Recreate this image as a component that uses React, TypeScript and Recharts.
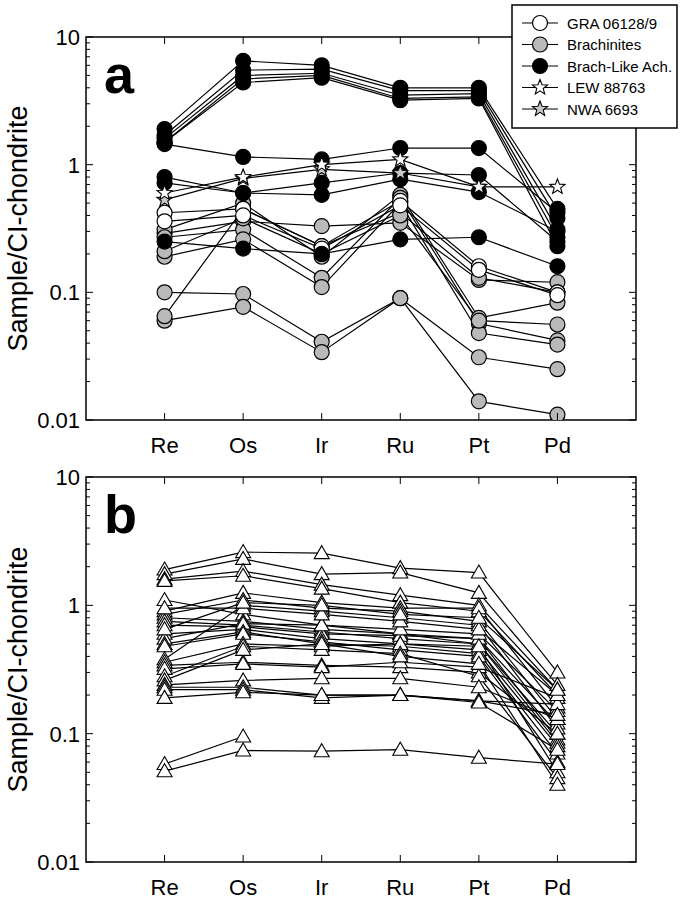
import React from "react";
import { LineChart, Line, XAxis, YAxis, ReferenceArea, Label } from "recharts";

const elements = ["Re", "Os", "Ir", "Ru", "Pt", "Pd"];
const elementPos = [1, 2, 3, 4, 5, 6];

const yTicks = [
  0.01, 0.02, 0.03, 0.04, 0.05, 0.06, 0.07, 0.08, 0.09,
  0.1, 0.2, 0.3, 0.4, 0.5, 0.6, 0.7, 0.8, 0.9,
  1, 2, 3, 4, 5, 6, 7, 8, 9, 10,
];
const majorTicks = [0.01, 0.1, 1, 10];

// panel a: values per element Re, Os, Ir, Ru, Pt, Pd
const graSeries = [
  [0.42, 0.45, 0.23, 0.52, 0.16, 0.1],
  [0.36, 0.4, 0.22, 0.48, 0.15, 0.095],
];

const brachiniteSeries = [
  [0.29, 0.36, 0.33, 0.35, 0.125, 0.12],
  [0.31, 0.5, 0.19, 0.58, 0.063, 0.083],
  [0.27, 0.31, 0.13, 0.55, 0.057, 0.042],
  [0.19, 0.26, 0.11, 0.5, 0.048, 0.039],
  [0.1, 0.097, 0.041, 0.09, 0.031, 0.025],
  [0.06, 0.077, 0.034, 0.09, 0.014, 0.011],
  [0.065, 0.45, 0.23, 0.42, 0.13, 0.1],
  [0.21, 0.38, 0.2, 0.4, 0.06, 0.056],
];

const brachLikeSeries = [
  [1.9, 6.5, 6.0, 4.0, 4.0, 0.45],
  [1.7, 5.5, 5.6, 3.8, 3.8, 0.38],
  [1.6, 5.0, 5.2, 3.5, 3.6, 0.31],
  [1.5, 4.7, 5.0, 3.3, 3.4, 0.27],
  [1.5, 4.4, 4.8, 3.2, 3.3, 0.23],
  [1.45, 1.15, 1.1, 1.35, 1.35, 0.42],
  [0.8, 0.6, 0.72, 0.86, 0.83, 0.25],
  [0.72, 0.6, 0.58, 0.77, 0.61, 0.3],
  [0.25, 0.22, 0.2, 0.26, 0.27, 0.16],
];

const lewSeries = [[0.6, 0.8, 1.0, 1.1, 0.67, 0.67]];
const nwaSeries: (number | null)[][] = [[0.53, 0.78, 0.92, 0.86, 0.67, null]];

// panel b
const panelBSeries: (number | null)[][] = [
  [1.9, 2.6, 2.55, 1.95, 1.8, 0.3],
  [1.75, 2.3, 1.75, 1.8, 1.25, 0.24],
  [1.6, 1.85, 1.45, 1.2, 1.0, 0.22],
  [1.55, 1.7, 1.35, 1.05, 0.9, 0.2],
  [1.1, 0.85, 0.7, 0.6, 0.5, 0.1],
  [0.9, 1.25, 1.05, 0.95, 0.95, 0.16],
  [0.85, 1.1, 0.95, 0.9, 0.75, 0.13],
  [0.8, 0.75, 0.65, 0.6, 0.55, 0.09],
  [0.75, 0.7, 0.62, 0.55, 0.5, 0.085],
  [0.7, 0.68, 0.6, 0.58, 0.55, 0.12],
  [0.6, 0.65, 0.55, 0.5, 0.45, 0.08],
  [0.55, 0.72, 0.7, 0.65, 0.6, 0.15],
  [0.5, 0.62, 0.5, 0.48, 0.42, 0.07],
  [0.48, 0.6, 0.52, 0.45, 0.4, 0.06],
  [0.38, 1.0, 0.9, 0.8, 0.7, 0.11],
  [0.36, 0.5, 0.48, 0.5, 0.48, 0.05],
  [0.34, 0.36, 0.34, 0.33, 0.3, 0.1],
  [0.32, 0.35, 0.33, 0.36, 0.33, 0.19],
  [0.28, 0.48, 0.45, 0.42, 0.28, 0.045],
  [0.26, 0.45, 0.5, 0.4, 0.35, 0.04],
  [0.24, 0.26, 0.27, 0.27, 0.23, 0.13],
  [0.23, 0.23, 0.2, 0.2, 0.18, 0.17],
  [0.22, 0.22, 0.19, 0.2, 0.18, 0.14],
  [0.19, 0.21, 0.2, 0.2, 0.175, 0.075],
  [0.058, 0.095, null, null, null, null],
  [0.051, 0.074, 0.073, 0.075, 0.065, 0.058],
  [0.95, 0.95, 0.85, 0.75, 0.65, 0.2],
  [0.65, 1.05, 1.0, 0.85, 0.8, 0.22],
];

type Shape = "circle" | "star" | "triangle";
type Group = { key: string; list: (number | null)[][]; shape: Shape; fill: string };

const groupsA: Group[] = [
  { key: "br", list: brachiniteSeries, shape: "circle", fill: "#b9b9b9" },
  { key: "gra", list: graSeries, shape: "circle", fill: "#ffffff" },
  { key: "bla", list: brachLikeSeries, shape: "circle", fill: "#000000" },
  { key: "nwa", list: nwaSeries, shape: "star", fill: "#c8c8c8" },
  { key: "lew", list: lewSeries, shape: "star", fill: "#ffffff" },
];
const groupsB: Group[] = [
  { key: "tri", list: panelBSeries, shape: "triangle", fill: "#ffffff" },
];

const legendItems = [
  { name: "GRA 06128/9", shape: "circle" as Shape, fill: "#ffffff" },
  { name: "Brachinites", shape: "circle" as Shape, fill: "#b9b9b9" },
  { name: "Brach-Like Ach.", shape: "circle" as Shape, fill: "#000000" },
  { name: "LEW 88763", shape: "star" as Shape, fill: "#ffffff" },
  { name: "NWA 6693", shape: "star" as Shape, fill: "#c8c8c8" },
];

const FONT = "'Liberation Sans', Arial, Helvetica, sans-serif";

const buildRows = (groups: Group[]) =>
  elementPos.map((pos, i) => {
    const row: any = { pos };
    groups.forEach((g) => g.list.forEach((s, j) => (row[`${g.key}${j}`] = s[i])));
    return row;
  });

const starPoints = (cx: number, cy: number, ro: number, ri: number) => {
  const pts: string[] = [];
  for (let k = 0; k < 10; k++) {
    const r = k % 2 === 0 ? ro : ri;
    const a = -Math.PI / 2 + (k * Math.PI) / 5;
    pts.push(`${cx + r * Math.cos(a)},${cy + r * Math.sin(a)}`);
  }
  return pts.join(" ");
};

const Marker = ({ cx, cy, shape, fill }: { cx: number; cy: number; shape: Shape; fill: string }) => {
  if (shape === "circle")
    return <circle cx={cx} cy={cy} r={7.5} fill={fill} stroke="#000" strokeWidth={1.2} />;
  if (shape === "star")
    return <polygon points={starPoints(cx, cy, 8, 3.4)} fill={fill} stroke="#000" strokeWidth={1.1} />;
  return (
    <polygon
      points={`${cx},${cy - 7.5} ${cx + 7.5},${cy + 5.5} ${cx - 7.5},${cy + 5.5}`}
      fill={fill}
      stroke="#000"
      strokeWidth={1.1}
    />
  );
};

const PL = 86;
const PR = 636;
const PT = 37;

const YTick = (props: any) => {
  const { y, payload } = props;
  const v = payload.value;
  const major = majorTicks.includes(v);
  const len = major ? 7 : 4;
  return (
    <g>
      <line x1={PL} x2={PL + len} y1={y} y2={y} stroke="#000" strokeWidth={1} />
      <line x1={PR} x2={PR - len} y1={y} y2={y} stroke="#000" strokeWidth={1} />
      {major && (
        <text x={PL - 6} y={y + 8} textAnchor="end" fontSize={22} fontFamily={FONT} fill="#000">
          {String(v)}
        </text>
      )}
    </g>
  );
};

const makeXTick = (bottom: number) => (props: any) => {
  const { x, payload } = props;
  return (
    <g>
      <line x1={x} x2={x} y1={bottom} y2={bottom - 7} stroke="#000" strokeWidth={1} />
      <line x1={x} x2={x} y1={PT} y2={PT + 7} stroke="#000" strokeWidth={1} />
      <text x={x} y={bottom + 33} textAnchor="middle" fontSize={22} fontFamily={FONT} fill="#000">
        {elements[payload.value - 1]}
      </text>
    </g>
  );
};

const Panel = ({ groups, letter, height, bottomMargin }: { groups: Group[]; letter: string; height: number; bottomMargin: number }) => {
  const rows = buildRows(groups);
  const bottom = height - bottomMargin - 30;
  return (
    <LineChart width={681} height={height} data={rows} margin={{ top: PT, right: 681 - PR, bottom: bottomMargin, left: 0 }}>
      <XAxis
        dataKey="pos"
        type="number"
        domain={[0, 7]}
        ticks={elementPos}
        interval={0}
        height={30}
        axisLine={false}
        tickLine={false}
        tick={makeXTick(bottom)}
      />
      <YAxis
        type="number"
        scale="log"
        domain={[0.01, 10]}
        allowDataOverflow
        ticks={yTicks}
        interval={0}
        width={PL}
        axisLine={false}
        tickLine={false}
        tick={<YTick />}
      >
        <Label
          content={() => (
            <g fontFamily={FONT} fill="#000">
              <text
                transform={`translate(27, ${(PT + bottom) / 2}) rotate(-90)`}
                textAnchor="middle"
                fontSize={27}
              >
                Sample/CI-chondrite
              </text>
              <text x={104} y={93} fontSize={54} fontWeight="bold">
                {letter}
              </text>
            </g>
          )}
        />
      </YAxis>
      <ReferenceArea x1={0} x2={7} y1={0.01} y2={10} fill="none" stroke="#000" strokeWidth={1.5} ifOverflow="visible" />
      {groups.map((g) =>
        g.list.map((_, j) => (
          <Line
            key={`${g.key}${j}`}
            dataKey={`${g.key}${j}`}
            stroke="#000"
            strokeWidth={1.2}
            isAnimationActive={false}
            connectNulls={false}
            dot={(p: any) =>
              p.cx == null || p.cy == null || p.value == null ? (
                <g key={`d-${g.key}${j}-${p.index}`} />
              ) : (
                <Marker key={`d-${g.key}${j}-${p.index}`} cx={p.cx} cy={p.cy} shape={g.shape} fill={g.fill} />
              )
            }
            activeDot={false}
          />
        ))
      )}
    </LineChart>
  );
};

const LegendBox = () => (
  <svg
    width={168}
    height={126}
    style={{ position: "absolute", left: 511, top: 4 }}
  >
    <rect x={1} y={1} width={165} height={123} fill="#fff" stroke="#000" strokeWidth={1.5} />
    {legendItems.map((it, i) => {
      const cy = 19 + i * 21.5;
      return (
        <g key={it.name}>
          <line x1={11} x2={47} y1={cy} y2={cy} stroke="#000" strokeWidth={1.2} />
          <Marker cx={29} cy={cy} shape={it.shape} fill={it.fill} />
          <text x={56} y={cy + 5.5} fontSize={15} fontFamily={FONT} fill="#000">
            {it.name}
          </text>
        </g>
      );
    })}
  </svg>
);

export default function App() {
  return (
    <div style={{ position: "absolute", left: 0, top: 0, width: 681, height: 900, background: "#fff" }}>
      <div style={{ position: "absolute", left: 0, top: 0 }}>
        <Panel groups={groupsA} letter="a" height={460} bottomMargin={10} />
      </div>
      <div style={{ position: "absolute", left: 0, top: 440 }}>
        <Panel groups={groupsB} letter="b" height={460} bottomMargin={8} />
      </div>
      <LegendBox />
    </div>
  );
}
